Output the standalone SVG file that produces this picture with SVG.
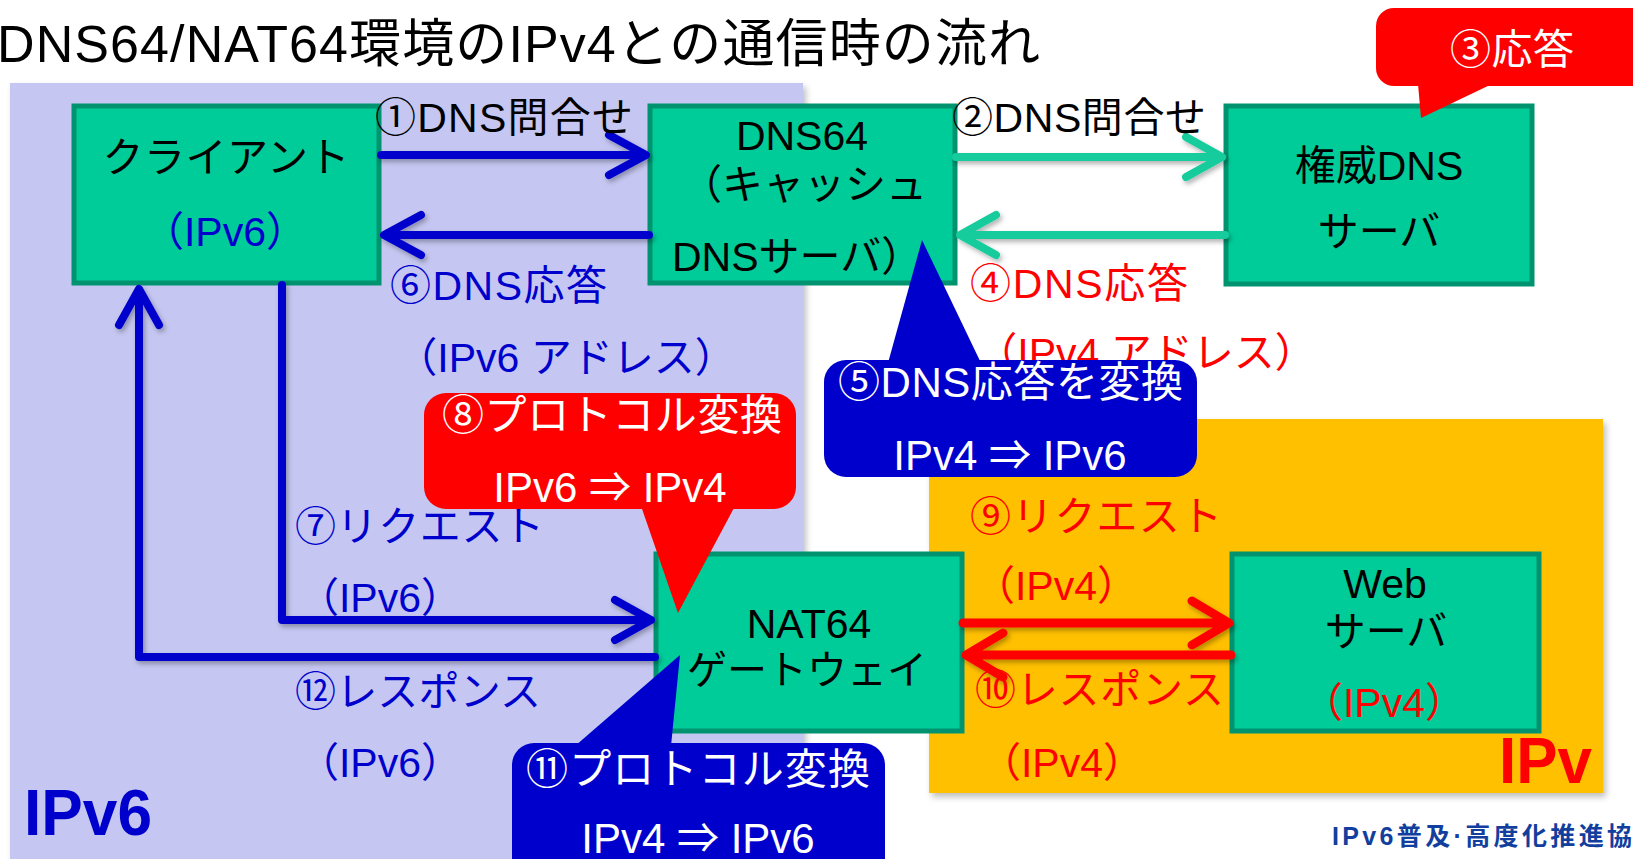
<svg xmlns="http://www.w3.org/2000/svg" width="1633" height="859" viewBox="0 0 1633 859">
<defs>
<filter id="sh" x="-10%" y="-10%" width="120%" height="130%"><feDropShadow dx="2" dy="3" stdDeviation="2.5" flood-color="#000" flood-opacity="0.3"/></filter>
<filter id="shr" x="-5%" y="-5%" width="110%" height="110%"><feDropShadow dx="3" dy="4" stdDeviation="3" flood-color="#000" flood-opacity="0.25"/></filter>
<style>
text{font-family:"Liberation Sans","Noto Sans CJK JP",sans-serif;font-size:41px}
.k{fill:#000}.b{fill:#0000CC}.r{fill:#FF0000}.w{fill:#fff}
.m{text-anchor:middle}
.node{fill:#00CC99;stroke:#00936F;stroke-width:5}
.ab{fill:none;stroke:#0000CC;stroke-width:8;stroke-linecap:round;stroke-linejoin:round}
.ag{fill:none;stroke:#19CC9C;stroke-width:8;stroke-linecap:round;stroke-linejoin:round}
.ar{fill:none;stroke:#FF0000;stroke-width:9;stroke-linecap:round;stroke-linejoin:round}
.cl{font-size:42px}
</style>
</defs>
<rect width="1633" height="859" fill="#fff"/>
<!-- regions -->
<rect id="ipv6-region" x="10" y="83" width="793" height="800" fill="#C5C7F2" filter="url(#shr)"/>
<rect id="ipv4-region" x="929" y="419" width="674" height="374" fill="#FFC000" filter="url(#shr)"/>
<text x="-3" y="62" class="k" style="font-size:52px" textLength="1043">DNS64/NAT64環境のIPv4との通信時の流れ</text>
<text x="24" y="835" class="b" style="font-size:65px;font-weight:bold" textLength="128" lengthAdjust="spacingAndGlyphs">IPv6</text>
<text x="1499" y="783" class="r" style="font-size:64px;font-weight:bold" textLength="93" lengthAdjust="spacingAndGlyphs">IPv</text>
<!-- nodes -->
<g id="client"><rect class="node" x="74" y="106" width="305" height="177"/>
<text x="226" y="172" class="k m" textLength="247">クライアント</text>
<text x="225" y="246" class="b m">（IPv6）</text></g>
<g id="dns64"><rect class="node" x="650" y="106" width="305" height="177"/>
<text x="802" y="150" class="k m">DNS64</text>
<text x="681" y="199" class="k">（キャッシュ</text>
<text x="672" y="271" class="k">DNSサーバ）</text></g>
<g id="authdns"><rect class="node" x="1226" y="106" width="306" height="178"/>
<text x="1379" y="180" class="k m">権威DNS</text>
<text x="1379" y="246" class="k m">サーバ</text></g>
<g id="nat64"><rect class="node" x="656" y="554" width="306" height="177"/>
<text x="809" y="638" class="k m">NAT64</text>
<text x="807" y="684" class="k m" style="font-size:40px">ゲートウェイ</text></g>
<g id="web"><rect class="node" x="1232" y="554" width="307" height="177"/>
<text x="1385" y="598" class="k m">Web</text>
<text x="1386" y="646" class="k m">サーバ</text>
<text x="1384" y="717" class="r m">（IPv4）</text></g>
<!-- connectors -->
<g id="connectors" filter="url(#sh)">
<path class="ab" d="M381,155 H645 M609,135 L646,155 L609,175"/>
<path class="ab" d="M649,235 H386 M421,215 L384,235 L421,255"/>
<path class="ag" d="M956,157 H1221 M1186,137 L1222,157 L1186,177"/>
<path class="ag" d="M1225,235 H961 M996,215 L960,235 L996,255"/>
<path class="ab" d="M282,285 V620 H651 M615,600 L651,620 L615,640"/>
<path class="ab" d="M655,657 H139 V290 M119,325 L139,289 L159,325"/>
<path class="ar" d="M963,623 H1227 M1192,601 L1229,623 L1192,645"/>
<path class="ar" d="M1231,655 H968 M1003,633 L966,655 L1003,677"/>
</g>
<!-- labels -->
<text x="375" y="132" class="k" textLength="258">①DNS問合せ</text>
<text x="952" y="132" class="k" textLength="254">②DNS問合せ</text>
<text x="390" y="300" class="b" textLength="217">⑥DNS応答</text>
<text x="566" y="372" class="b m">（IPv6 アドレス）</text>
<text x="970" y="298" class="r" textLength="218">④DNS応答</text>
<text x="1146" y="367" class="r m">（IPv4 アドレス）</text>
<text x="295" y="541" class="b" textLength="249">⑦リクエスト</text>
<text x="380" y="612" class="b m">（IPv6）</text>
<text x="295" y="706" class="b" textLength="246">⑫レスポンス</text>
<text x="380" y="777" class="b m">（IPv6）</text>
<text x="970" y="531" class="r" textLength="252">⑨リクエスト</text>
<text x="1056" y="600" class="r m">（IPv4）</text>
<text x="975" y="704" class="r" textLength="249">⑩レスポンス</text>
<text x="1062" y="777" class="r m">（IPv4）</text>
<!-- callouts -->
<g id="callout3" fill="#FF0000"><rect x="1376" y="8" width="300" height="78" rx="18"/><polygon points="1418,84 1421,118 1492,84"/>
<text x="1450" y="64" class="w" textLength="124">③応答</text></g>
<g id="callout5" fill="#0000CC"><rect x="824" y="360" width="373" height="117" rx="22"/><polygon points="888,363 922,240 981,363"/>
<text x="838" y="397" class="w cl" textLength="345">⑤DNS応答を変換</text>
<text x="1010" y="470" class="w m cl">IPv4 ⇒ IPv6</text></g>
<g id="callout8" fill="#FF0000"><rect x="424" y="393" width="372" height="116" rx="22"/><polygon points="641,506 678,613 735,506"/>
<text x="442" y="430" class="w cl" textLength="340">⑧プロトコル変換</text>
<text x="610" y="502" class="w m cl">IPv6 ⇒ IPv4</text></g>
<g id="callout11" fill="#0000CC"><rect x="512" y="743" width="373" height="140" rx="22"/><polygon points="575,746 680,655 671,746"/>
<text x="526" y="784" class="w cl" textLength="344">⑪プロトコル変換</text>
<text x="698" y="853" class="w m cl">IPv4 ⇒ IPv6</text></g>
<text x="1332" y="845" style="font-size:25px;font-weight:bold;fill:#123E9E" textLength="300">IPv6普及·高度化推進協</text>
</svg>
